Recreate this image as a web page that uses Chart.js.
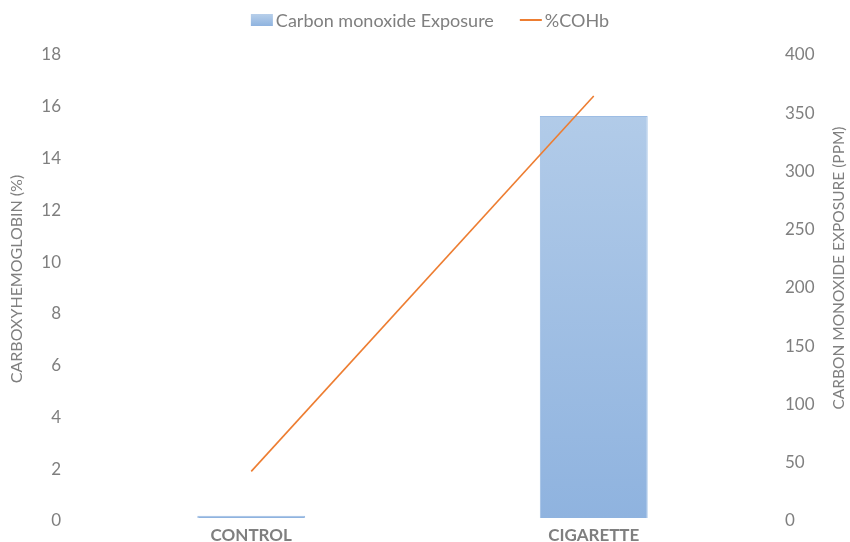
<!DOCTYPE html>
<html>
<head>
<meta charset="utf-8">
<script src="https://cdn.jsdelivr.net/npm/chart.js@4"></script>
<style>
  html, body { margin: 0; padding: 0; background: #ffffff; }
  #wrap { width: 850px; height: 542px; }
</style>
</head>
<body>
<div id="wrap"><canvas id="chart" width="850" height="542"></canvas></div>
<script>
const categories = ['CONTROL', 'CIGARETTE'];
const coExposurePpm = [2, 345];
const cohbPercent = [1.8, 16.3];
const leftTicks = [0, 2, 4, 6, 8, 10, 12, 14, 16, 18];
const rightTicks = [0, 50, 100, 150, 200, 250, 300, 350, 400];
const leftTitle = 'CARBOXYHEMOGLOBIN (%)';
const rightTitle = 'CARBON MONOXIDE EXPOSURE (PPM)';
const barLabel = 'Carbon monoxide Exposure';
const lineLabel = '%COHb';

const FONT = 'Lato, "Open Sans", "Liberation Sans", sans-serif';
const GREY = '#7f7f7f';
const ORANGE = '#ed7d31';
const BAR_TOP = '#b7cfea';
const BAR_BOTTOM = '#8fb3df';

function barGradient(ctx) {
  const chart = ctx.chart;
  const area = chart.chartArea;
  if (!area) return '#a3c0e5';
  const g = chart.ctx.createLinearGradient(0, area.top, 0, area.bottom);
  g.addColorStop(0, BAR_TOP);
  g.addColorStop(1, BAR_BOTTOM);
  return g;
}

// value axes take no extra room above/below the plot for their end labels
function fitValueAxis(width) {
  return function (axis) {
    axis.width = width;
    axis.paddingTop = 0;
    axis.paddingBottom = 0;
  };
}

// legend row and rotated axis titles
const decorations = {
  id: 'decorations',
  afterDraw(chart) {
    const ctx = chart.ctx;
    ctx.save();
    // legend
    ctx.font = '18px ' + FONT;
    ctx.textBaseline = 'middle';
    ctx.textAlign = 'left';
    const sw = 22, gap = 3, itemGap = 26;
    const w1 = ctx.measureText(barLabel).width;
    const w2 = ctx.measureText(lineLabel).width;
    const total = sw + gap + w1 + itemGap + sw + gap + w2;
    let x = 430 - total / 2;
    const cy = 20;
    const g = ctx.createLinearGradient(0, cy - 6, 0, cy + 6);
    g.addColorStop(0, BAR_TOP);
    g.addColorStop(1, BAR_BOTTOM);
    ctx.fillStyle = g;
    ctx.fillRect(x, cy - 6, sw, 12);
    x += sw + gap;
    ctx.fillStyle = GREY;
    ctx.fillText(barLabel, x, cy + 1);
    x += w1 + itemGap;
    ctx.strokeStyle = ORANGE;
    ctx.lineWidth = 2;
    ctx.beginPath();
    ctx.moveTo(x, cy);
    ctx.lineTo(x + sw, cy);
    ctx.stroke();
    x += sw + gap;
    ctx.fillText(lineLabel, x, cy + 1);

    // axis titles, both reading bottom-to-top
    ctx.textAlign = 'center';
    ctx.fillStyle = GREY;
    ctx.save();
    ctx.translate(17, 279);
    ctx.rotate(-Math.PI / 2);
    ctx.font = '16px ' + FONT;
    ctx.fillText(leftTitle, 0, 0);
    ctx.restore();
    ctx.save();
    ctx.translate(839, 268);
    ctx.rotate(-Math.PI / 2);
    ctx.font = '15.5px ' + FONT;
    ctx.fillText(rightTitle, 0, 0);
    ctx.restore();
    ctx.restore();
  }
};

new Chart(document.getElementById('chart'), {
  data: {
    labels: categories,
    datasets: [
      {
        type: 'line',
        label: lineLabel,
        data: cohbPercent,
        yAxisID: 'yLeft',
        borderColor: ORANGE,
        backgroundColor: ORANGE,
        borderWidth: 1.6,
        pointRadius: 0,
        tension: 0,
        order: 0
      },
      {
        type: 'bar',
        label: barLabel,
        data: coExposurePpm,
        yAxisID: 'yRight',
        backgroundColor: barGradient,
        borderColor: '#9dbde4',
        borderWidth: 1,
        categoryPercentage: 0.315,
        barPercentage: 1,
        order: 1
      }
    ]
  },
  plugins: [decorations],
  options: {
    responsive: false,
    animation: false,
    layout: { padding: { left: 0, right: 0, top: 52, bottom: 0 } },
    plugins: {
      tooltip: { enabled: false },
      legend: { display: false }
    },
    scales: {
      x: {
        grid: { display: false, drawTicks: false },
        border: { display: false },
        ticks: {
          color: GREY,
          font: { family: FONT, size: 17, weight: 'bold' },
          padding: 7
        },
        afterFit(axis) { axis.height = 24; axis.paddingLeft = 0; axis.paddingRight = 0; }
      },
      yLeft: {
        position: 'left',
        min: 0, max: 18,
        afterBuildTicks(axis) { axis.ticks = leftTicks.map(v => ({ value: v })); },
        grid: { display: false, drawTicks: false },
        border: { display: false },
        ticks: { color: GREY, font: { family: FONT, size: 17 }, padding: 19, labelOffset: 3 },
        afterFit: fitValueAxis(80)
      },
      yRight: {
        position: 'right',
        min: 0, max: 400,
        afterBuildTicks(axis) { axis.ticks = rightTicks.map(v => ({ value: v })); },
        grid: { display: false, drawTicks: false },
        border: { display: false },
        ticks: { color: GREY, font: { family: FONT, size: 17 }, padding: 20, labelOffset: 3 },
        afterFit: fitValueAxis(85)
      }
    }
  }
});
</script>
</body>
</html>
